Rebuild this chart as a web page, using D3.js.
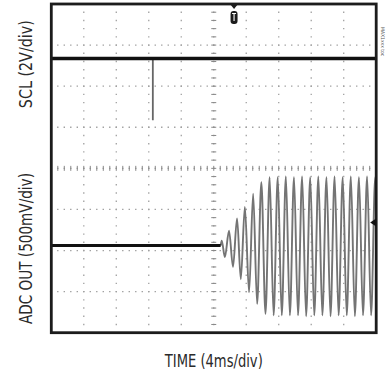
<!DOCTYPE html>
<html>
<head>
<meta charset="utf-8">
<script src="https://cdn.jsdelivr.net/npm/d3@7"></script>
<style>
  body { margin: 0; background: #fff; }
  svg { display: block; }
</style>
</head>
<body>
<div id="chart"></div>
<script>
// scope screen: 10 x 8 divisions, 4 ms/div
const timeGrid = [0, 4, 8, 12, 16, 20, 24, 28, 32, 36, 40];
const divGrid = [-4, -3, -2, -1, 0, 1, 2, 3, 4];

// SCL channel (2V/div), idle high with one glitch
const sclTime = [0, 40];
const sclVolts = [5, 5];
const glitchTime = [12.5, 12.5];
const glitchVolts = [5, 2.0];

// ADC OUT channel (500mV/div): flat, then ~1kHz tone ramping up
const adcBaseTime = [0, 20.85];
const adcBaseVolts = [0, 0];
const adcWaveTime = [20.85, 20.98, 21.37, 21.88, 22.37, 22.87, 23.33, 23.83, 24.35, 24.85,
  25.34, 25.86, 26.37, 26.88, 27.37, 27.88, 28.37, 28.88, 29.37, 29.88,
  30.37, 30.88, 31.37, 31.88, 32.37, 32.88, 33.37, 33.88, 34.37, 34.88,
  35.37, 35.88, 36.37, 36.88, 37.37, 37.88, 38.37, 38.88, 39.37, 39.88, 40];
const adcWaveVolts = [0, 0.06, -0.14, 0.18, -0.26, 0.33, -0.41, 0.47, -0.57, 0.63,
  -0.71, 0.77, -0.83, 0.83, -0.85, 0.83, -0.85, 0.84, -0.85, 0.83,
  -0.85, 0.84, -0.86, 0.83, -0.85, 0.84, -0.85, 0.83, -0.86, 0.84,
  -0.85, 0.83, -0.85, 0.84, -0.86, 0.83, -0.85, 0.84, -0.85, 0.83, 0.80];

const triggerTime = 22.5;     // ms
const triggerLevel = 0.28;    // V on ADC channel

// channel setup: volts per div and ground offset (div)
const scl = { vdiv: 2, offset: 0.173 };
const adc = { vdiv: 0.5, offset: -1.878 };

const width = 386, height = 374;
const plot = { left: 51.3, right: 376.2, top: 4, bottom: 332.7 };

const svg = d3.select('#chart').append('svg')
  .attr('width', width)
  .attr('height', height)
  .attr('viewBox', [0, 0, width, height]);

const x = d3.scaleLinear().domain([0, 40]).range([plot.left, plot.right]);
const y = d3.scaleLinear().domain([-4, 4]).range([plot.bottom, plot.top]);

const xDiv = x(4) - x(0), yDiv = y(0) - y(1);

svg.append('defs').append('clipPath').attr('id', 'clip')
  .append('rect')
  .attr('x', plot.left).attr('y', plot.top)
  .attr('width', plot.right - plot.left).attr('height', plot.bottom - plot.top);

//dotted graticule
const grid = svg.append('g').attr('stroke', '#a0a0a0').attr('stroke-width', 1.3);
grid.selectAll('line.v')
  .data(timeGrid.slice(1, -1))
  .join('line')
    .attr('class', 'v')
    .attr('x1', d => x(d)).attr('x2', d => x(d))
    .attr('y1', plot.top).attr('y2', plot.bottom)
    .attr('stroke-dasharray', `1.4,${yDiv / 5 - 1.4}`)
    .attr('stroke-dashoffset', -yDiv / 5 + 0.7);
grid.selectAll('line.h')
  .data(divGrid.slice(1, -1))
  .join('line')
    .attr('class', 'h')
    .attr('y1', d => y(d)).attr('y2', d => y(d))
    .attr('x1', plot.left).attr('x2', plot.right)
    .attr('stroke-dasharray', `1.4,${xDiv / 5 - 1.4}`)
    .attr('stroke-dashoffset', -xDiv / 5 + 0.7);

// minor ticks on the centre axes
const minorX = d3.range(0, 50).map(i => i * 0.8);
const minorY = d3.range(0, 40).map(i => -4 + i * 0.2);
grid.selectAll('line.tx')
  .data(minorX.slice(1))
  .join('line')
    .attr('class', 'tx')
    .attr('x1', d => x(d)).attr('x2', d => x(d))
    .attr('y1', y(0) - 2.5).attr('y2', y(0) + 2.5)
    .attr('stroke', '#888').attr('stroke-width', 1);
grid.selectAll('line.ty')
  .data(minorY.slice(1))
  .join('line')
    .attr('class', 'ty')
    .attr('y1', d => y(d)).attr('y2', d => y(d))
    .attr('x1', x(20) - 2.5).attr('x2', x(20) + 2.5)
    .attr('stroke', '#888').attr('stroke-width', 1);

const traces = svg.append('g').attr('clip-path', 'url(#clip)').attr('fill', 'none');

const sclLine = d3.line()
  .x(d => x(d[0]))
  .y(d => y(d[1] / scl.vdiv + scl.offset));
const adcLine = d3.line()
  .x(d => x(d[0]))
  .y(d => y(d[1] / adc.vdiv + adc.offset));

traces.append('path')
  .attr('d', adcLine.curve(d3.curveMonotoneX)(d3.zip(adcWaveTime, adcWaveVolts)))
  .attr('stroke', '#747474')
  .attr('stroke-width', 1.9);
traces.append('path')
  .attr('d', adcLine.curve(d3.curveLinear)(d3.zip(adcBaseTime, adcBaseVolts)))
  .attr('stroke', '#111')
  .attr('stroke-width', 3.2);

traces.append('path')
  .attr('d', sclLine(d3.zip(glitchTime, glitchVolts)))
  .attr('stroke', '#666')
  .attr('stroke-width', 1.8);
traces.append('path')
  .attr('d', sclLine(d3.zip(sclTime, sclVolts)))
  .attr('stroke', '#111')
  .attr('stroke-width', 3.6);

// frame
svg.append('rect')
  .attr('x', plot.left).attr('y', plot.top)
  .attr('width', plot.right - plot.left).attr('height', plot.bottom - plot.top)
  .attr('fill', 'none')
  .attr('stroke', '#1c1c1c')
  .attr('stroke-width', 2.8);

// trigger position marker
const tx = x(triggerTime);
svg.append('path')
  .attr('d', `M${tx - 4},${plot.top}L${tx + 4},${plot.top}L${tx},${plot.top + 5}Z`)
  .attr('fill', '#1c1c1c');
svg.append('rect')
  .attr('x', tx - 3.5).attr('y', plot.top + 7)
  .attr('width', 7).attr('height', 13).attr('rx', 3)
  .attr('fill', '#1c1c1c');
svg.append('path')
  .attr('d', `M${tx - 2},${plot.top + 9.5}H${tx + 2}M${tx},${plot.top + 9.5}V${plot.top + 17}`)
  .attr('stroke', '#fff').attr('stroke-width', 1.1);

// trigger level marker
const ty = y(triggerLevel / adc.vdiv + adc.offset);
svg.append('path')
  .attr('d', `M${plot.right - 6},${ty}L${plot.right},${ty - 4}L${plot.right},${ty + 4}Z`)
  .attr('fill', '#111');

// labels
const font = '"Liberation Sans Narrow", "DejaVu Sans Condensed", sans-serif';
svg.append('text')
  .attr('transform', `translate(32,${(y(4) + y(0)) / 2 - 22}) rotate(-90)`)
  .attr('text-anchor', 'middle')
  .attr('font-family', font).attr('font-size', 18)
  .attr('fill', '#2a2a2a')
  .attr('textLength', 88).attr('lengthAdjust', 'spacingAndGlyphs')
  .text('SCL (2V/div)');
svg.append('text')
  .attr('transform', `translate(32,${(y(0) + y(-4)) / 2 - 2}) rotate(-90)`)
  .attr('text-anchor', 'middle')
  .attr('font-family', font).attr('font-size', 18)
  .attr('fill', '#2a2a2a')
  .attr('textLength', 151).attr('lengthAdjust', 'spacingAndGlyphs')
  .text('ADC OUT (500mV/div)');
svg.append('text')
  .attr('x', (plot.left + plot.right) / 2).attr('y', 367)
  .attr('text-anchor', 'middle')
  .attr('font-family', font).attr('font-size', 18)
  .attr('fill', '#2a2a2a')
  .attr('textLength', 98).attr('lengthAdjust', 'spacingAndGlyphs')
  .text('TIME (4ms/div)');

// figure tag on the right edge
svg.append('text')
  .attr('transform', 'translate(381,27) rotate(90)')
  .attr('font-family', font).attr('font-size', 5)
  .attr('fill', '#555')
  .text('MAX1xxx toc');
</script>
</body>
</html>
